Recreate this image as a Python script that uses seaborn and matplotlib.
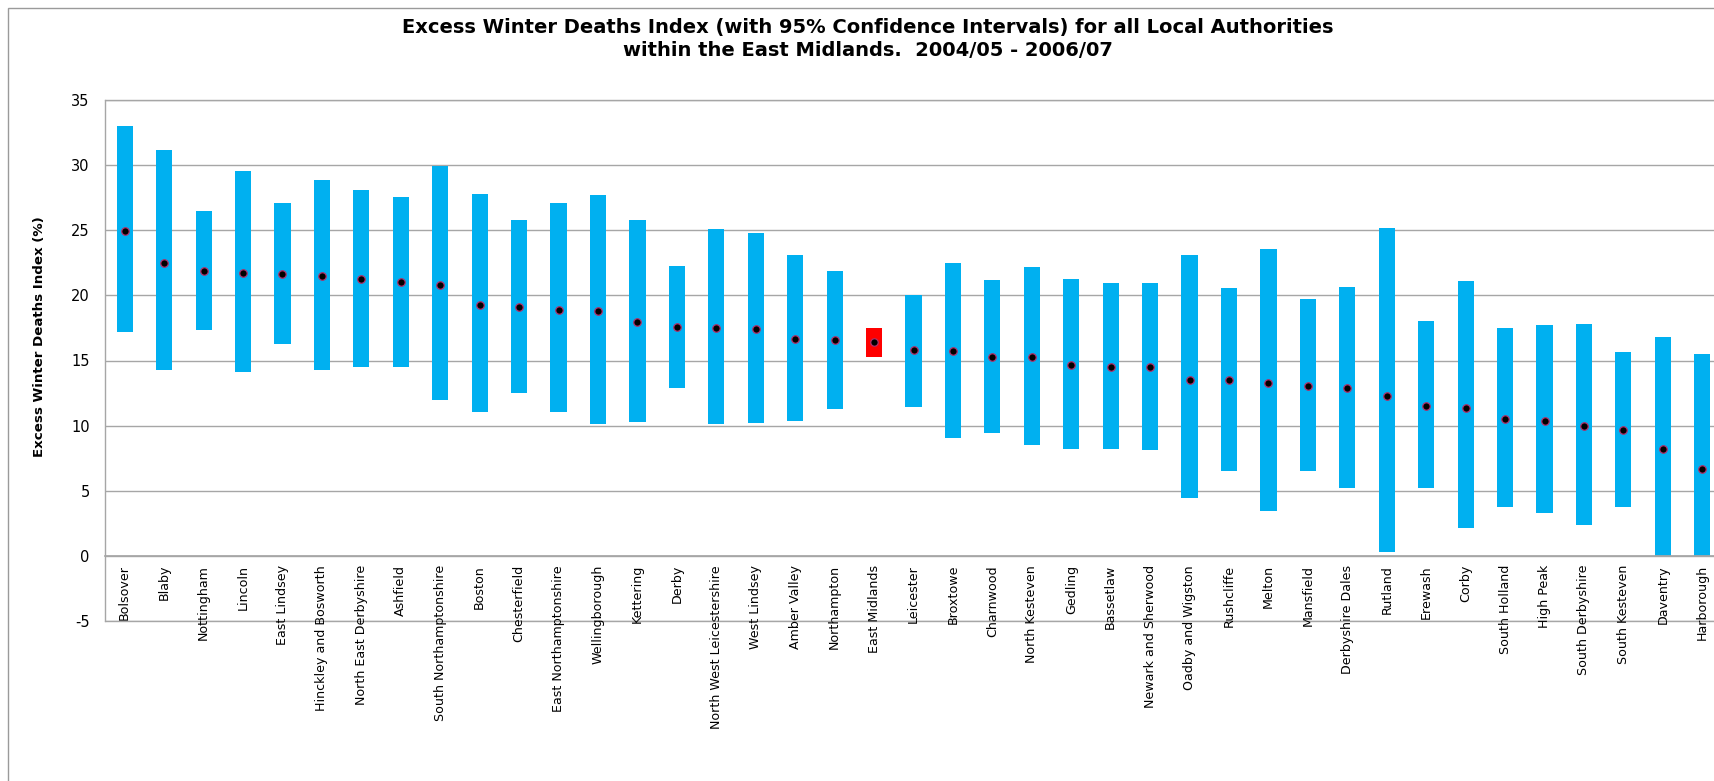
import numpy as np
import pandas as pd
import matplotlib
matplotlib.use("Agg")
import matplotlib.pyplot as plt
import seaborn as sns
from matplotlib.patches import Rectangle

authorities = [
    "Bolsover", "Blaby", "Nottingham", "Lincoln", "East Lindsey",
    "Hinckley and Bosworth", "North East Derbyshire", "Ashfield",
    "South Northamptonshire", "Boston", "Chesterfield", "East Northamptonshire",
    "Wellingborough", "Kettering", "Derby", "North West Leicestershire",
    "West Lindsey", "Amber Valley", "Northampton", "East Midlands", "Leicester",
    "Broxtowe", "Charnwood", "North Kesteven", "Gedling", "Bassetlaw",
    "Newark and Sherwood", "Oadby and Wigston", "Rushcliffe", "Melton",
    "Mansfield", "Derbyshire Dales", "Rutland", "Erewash", "Corby",
    "South Holland", "High Peak", "South Derbyshire", "South Kesteven",
    "Daventry", "Harborough",
]
ewd_index = [
    24.97, 22.49, 21.9, 21.72, 21.64, 21.49, 21.23, 21.0, 20.82, 19.24,
    19.08, 18.9, 18.78, 17.93, 17.6, 17.52, 17.45, 16.68, 16.6, 16.45,
    15.78, 15.71, 15.3, 15.3, 14.63, 14.53, 14.53, 13.53, 13.53, 13.3,
    13.05, 12.89, 12.3, 11.54, 11.38, 10.54, 10.39, 9.98, 9.64, 8.24, 6.68,
]
ci_lower = [
    17.2, 14.3, 17.37, 14.15, 16.3, 14.3, 14.53, 14.53, 12.0, 11.08,
    12.54, 11.08, 10.16, 10.31, 12.92, 10.16, 10.23, 10.39, 11.31, 15.3,
    11.46, 9.08, 9.47, 8.54, 8.24, 8.24, 8.16, 4.48, 6.55, 3.48,
    6.55, 5.24, 0.33, 5.24, 2.17, 3.79, 3.33, 2.4, 3.79, 0.0, 0.0,
]
ci_upper = [
    33.0, 31.16, 26.48, 29.55, 27.09, 28.86, 28.09, 27.55, 29.93, 27.78,
    25.79, 27.09, 27.7, 25.79, 22.26, 25.1, 24.79, 23.1, 21.87, 17.5,
    20.03, 22.49, 21.18, 22.18, 21.26, 20.95, 20.95, 23.1, 20.57, 23.56,
    19.72, 20.64, 25.17, 18.04, 21.1, 17.5, 17.73, 17.8, 15.66, 16.81, 15.5,
]
highlight = "East Midlands"
y_ticks = [-5, 0, 5, 10, 15, 20, 25, 30, 35]
title_lines = [
    "Excess Winter Deaths Index (with 95% Confidence Intervals) for all Local Authorities",
    "within the East Midlands.  2004/05 - 2006/07",
]
y_label = "Excess Winter Deaths Index (%)"

sns.set_theme(style="white")
plt.rcParams["font.family"] = ["DejaVu Sans"]
plt.rcParams["text.color"] = "black"
plt.rcParams["xtick.color"] = "black"
plt.rcParams["ytick.color"] = "black"

df = pd.DataFrame({
    "authority": authorities,
    "index": ewd_index,
    "lower": ci_lower,
    "upper": ci_upper,
})
df["span"] = df["upper"] - df["lower"]

W, H = 1715, 781
fig = plt.figure(figsize=(W / 100, H / 100), dpi=100)
fig.patch.set_facecolor("white")
ax = fig.add_axes([105 / W, 1 - 621 / H, 1617 / W, 521 / H])

grid_col = "#a6a6a6"

sns.barplot(data=df, x="authority", y="span", bottom=df["lower"].to_numpy(),
            color="#00B0F0", saturation=1, width=0.41, errorbar=None,
            ax=ax, zorder=2, linewidth=0)
for patch, name in zip(ax.patches, authorities):
    if name == highlight:
        patch.set_facecolor("#FF0000")

sns.stripplot(data=df, x="authority", y="index", jitter=False, size=5.4,
              color="black", edgecolor="#b0306a", linewidth=0.9, ax=ax, zorder=3)

ax.set_xlim(-0.5, len(authorities) - 0.5)
ax.set_ylim(-5, 35)
ax.set_yticks(y_ticks)
ax.set_yticklabels([str(v) for v in y_ticks])
ax.set_xticks(range(len(authorities)))
ax.set_xticklabels(authorities)
ax.set_xticks(np.arange(-0.5, len(authorities), 1.0), minor=True)
ax.tick_params(axis="x", which="major", length=0, pad=6.5, labelrotation=90,
               labelcolor="black", labelsize=9.1)
ax.tick_params(axis="x", which="minor", length=4, width=0.8, color=grid_col, direction="out")
ax.tick_params(axis="y", which="major", length=5, width=0.8, color=grid_col,
               direction="out", pad=6, labelcolor="black", labelsize=10.5)
ax.set_xlabel("")
ax.set_ylabel("")

ax.yaxis.grid(True, color=grid_col, linewidth=1)
ax.xaxis.grid(False)
ax.set_axisbelow(True)
ax.axhline(-5, color=grid_col, linewidth=1, clip_on=False, zorder=0)
ax.axhline(35, color=grid_col, linewidth=1, clip_on=False, zorder=0)
for s in ["top", "right"]:
    ax.spines[s].set_visible(False)
ax.spines["bottom"].set_position(("data", 0))
ax.spines["bottom"].set_color(grid_col)
ax.spines["left"].set_color(grid_col)
ax.spines["left"].set_linewidth(1)

fig.text(40 / W, 1 - 337 / H, y_label, rotation=90, ha="center", va="center",
         fontsize=9.6, fontweight="bold", color="black")
fig.text(868 / W, 1 - 27 / H, title_lines[0], ha="center", va="center",
         fontsize=14, fontweight="bold", color="black")
fig.text(868 / W, 1 - 51 / H, title_lines[1], ha="center", va="center",
         fontsize=14, fontweight="bold", color="black")

fig.patches.append(Rectangle((8 / W, -0.2), 1.5, 1.2 - 8 / H,
                             transform=fig.transFigure, fill=False,
                             edgecolor="#9a9a9a", linewidth=1))

fig.savefig("out.png", dpi=100)
